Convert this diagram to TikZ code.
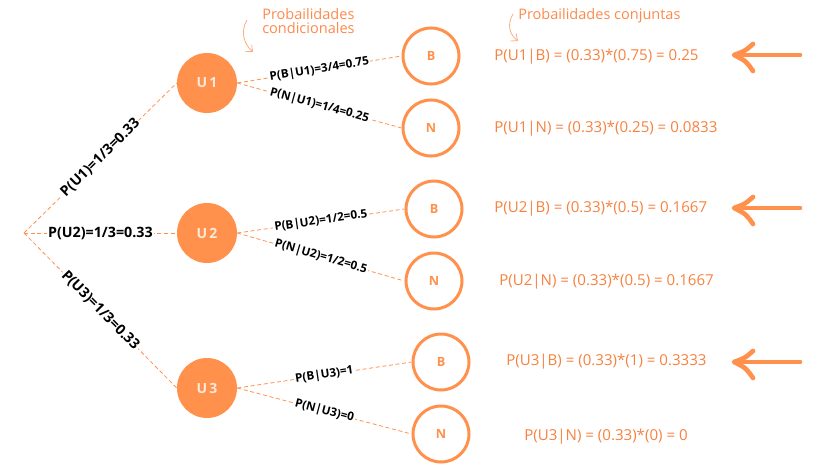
\documentclass[tikz,border=0pt]{standalone}
\usepackage{fontspec}
\setmainfont{Open Sans}
\usetikzlibrary{arrows.meta}
\definecolor{org}{HTML}{FF914D}
\definecolor{orgtxt}{HTML}{F7813F}
\definecolor{organn}{HTML}{FC8A4C}
\definecolor{cream}{HTML}{F7E9DC}
\begin{document}
\begin{tikzpicture}[x=0.75pt,y=-0.75pt,
  ubox/.style={circle,fill=org,minimum size=45pt,inner sep=0pt,text=cream,font=\bfseries\fontsize{10.5}{12}\selectfont},
  leafbox/.style={circle,draw=org,line width=2.25pt,minimum size=42pt,inner sep=0pt,text=org,font=\bfseries\fontsize{9.5}{11}\selectfont},
  edge/.style={draw=org,dashed,dash pattern=on 3pt off 2pt,line width=0.6pt},
  rootlbl/.style={fill=white,inner sep=1pt,sloped,pos=0.5,text=black,font=\bfseries\fontsize{10.7}{12}\selectfont},
  brlbl/.style={fill=white,inner sep=1pt,sloped,pos=0.5,text=black,font=\bfseries\fontsize{8.8}{10}\selectfont},
  joint/.style={anchor=west,inner sep=0pt,text=orgtxt,font=\fontsize{11.3}{13}\selectfont},
  ann/.style={anchor=west,inner sep=0pt,text=organn,font=\fontsize{10.9}{13}\selectfont,align=left},
  annarrow/.style={draw=organn!70,line width=0.6pt,-{Straight Barb[length=4pt,width=7pt]}},
  bigarrow/.style={draw=org,line width=3.5pt,line cap=round,line join=round}
]
\useasboundingbox (0,0) rectangle (828,471);

\coordinate (root) at (24,233);
\node[ubox] (U1) at (207,83) {U\kern1.8pt 1};
\node[ubox] (U2) at (207,233) {U\kern1.8pt 2};
\node[ubox] (U3) at (207,388) {U\kern1.8pt 3};

\node[leafbox] (B1) at (431,56) {B};
\node[leafbox] (N1) at (431,128) {N};
\node[leafbox] (B2) at (434,209) {B};
\node[leafbox] (N2) at (434,281) {N};
\node[leafbox] (B3) at (441,362) {B};
\node[leafbox] (N3) at (441,434) {N};

\path[edge] (root) -- node[rootlbl] {P(U1)=1/3=0.33} (U1.west);
\path[edge] (root) -- node[rootlbl] {P(U2)=1/3=0.33} (U2.west);
\path[edge] (root) -- node[rootlbl] {P(U3)=1/3=0.33} (U3.west);

\path[edge] (U1.east) -- node[brlbl] {P(B|U1)=3/4=0.75} (B1.west);
\path[edge] (U1.east) -- node[brlbl] {P(N|U1)=1/4=0.25} (N1.west);
\path[edge] (U2.east) -- node[brlbl] {P(B|U2)=1/2=0.5} (B2.west);
\path[edge] (U2.east) -- node[brlbl] {P(N|U2)=1/2=0.5} (N2.west);
\path[edge] (U3.east) -- node[brlbl] {P(B|U3)=1} (B3.west);
\path[edge] (U3.east) -- node[brlbl] {P(N|U3)=0} (N3.west);

\node[joint] (J1) at (494,57) {P(U1|B) = (0.33)*(0.75) = 0.25};
\node[joint] (J2) at (494,129) {P(U1|N) = (0.33)*(0.25) = 0.0833};
\node[joint] (J3) at (494,209) {P(U2|B) = (0.33)*(0.5) = 0.1667};
\node[joint] (J4) at (499,282) {P(U2|N) = (0.33)*(0.5) = 0.1667};
\node[joint] (J5) at (506,362) {P(U3|B) = (0.33)*(1) = 0.3333};
\node[joint] (J6) at (524,437) {P(U3|N) = (0.33)*(0) = 0};

\node[ann] (condic) at (262,21) {Probailidades\\[-2pt]condicionales};
\node[ann] (conj) at (518,16) {Probailidades conjuntas};

\coordinate (ca1) at (247,20);
\coordinate (ca2) at (253,52);
\draw[annarrow] (ca1) .. controls (240,32) and (244,44) .. (ca2);
\coordinate (cb1) at (513,14);
\coordinate (cb2) at (518,41);
\draw[annarrow] (cb1) .. controls (507,24) and (509,34) .. (cb2);

\foreach \y in {55,208,362} {
  \draw[bigarrow] (800,\y) -- (736,\y);
  \draw[bigarrow] (753,\y-11) .. controls (745,\y-4) .. (734,\y) .. controls (746,\y+6) .. (753,\y+16);
}
\end{tikzpicture}
\end{document}
